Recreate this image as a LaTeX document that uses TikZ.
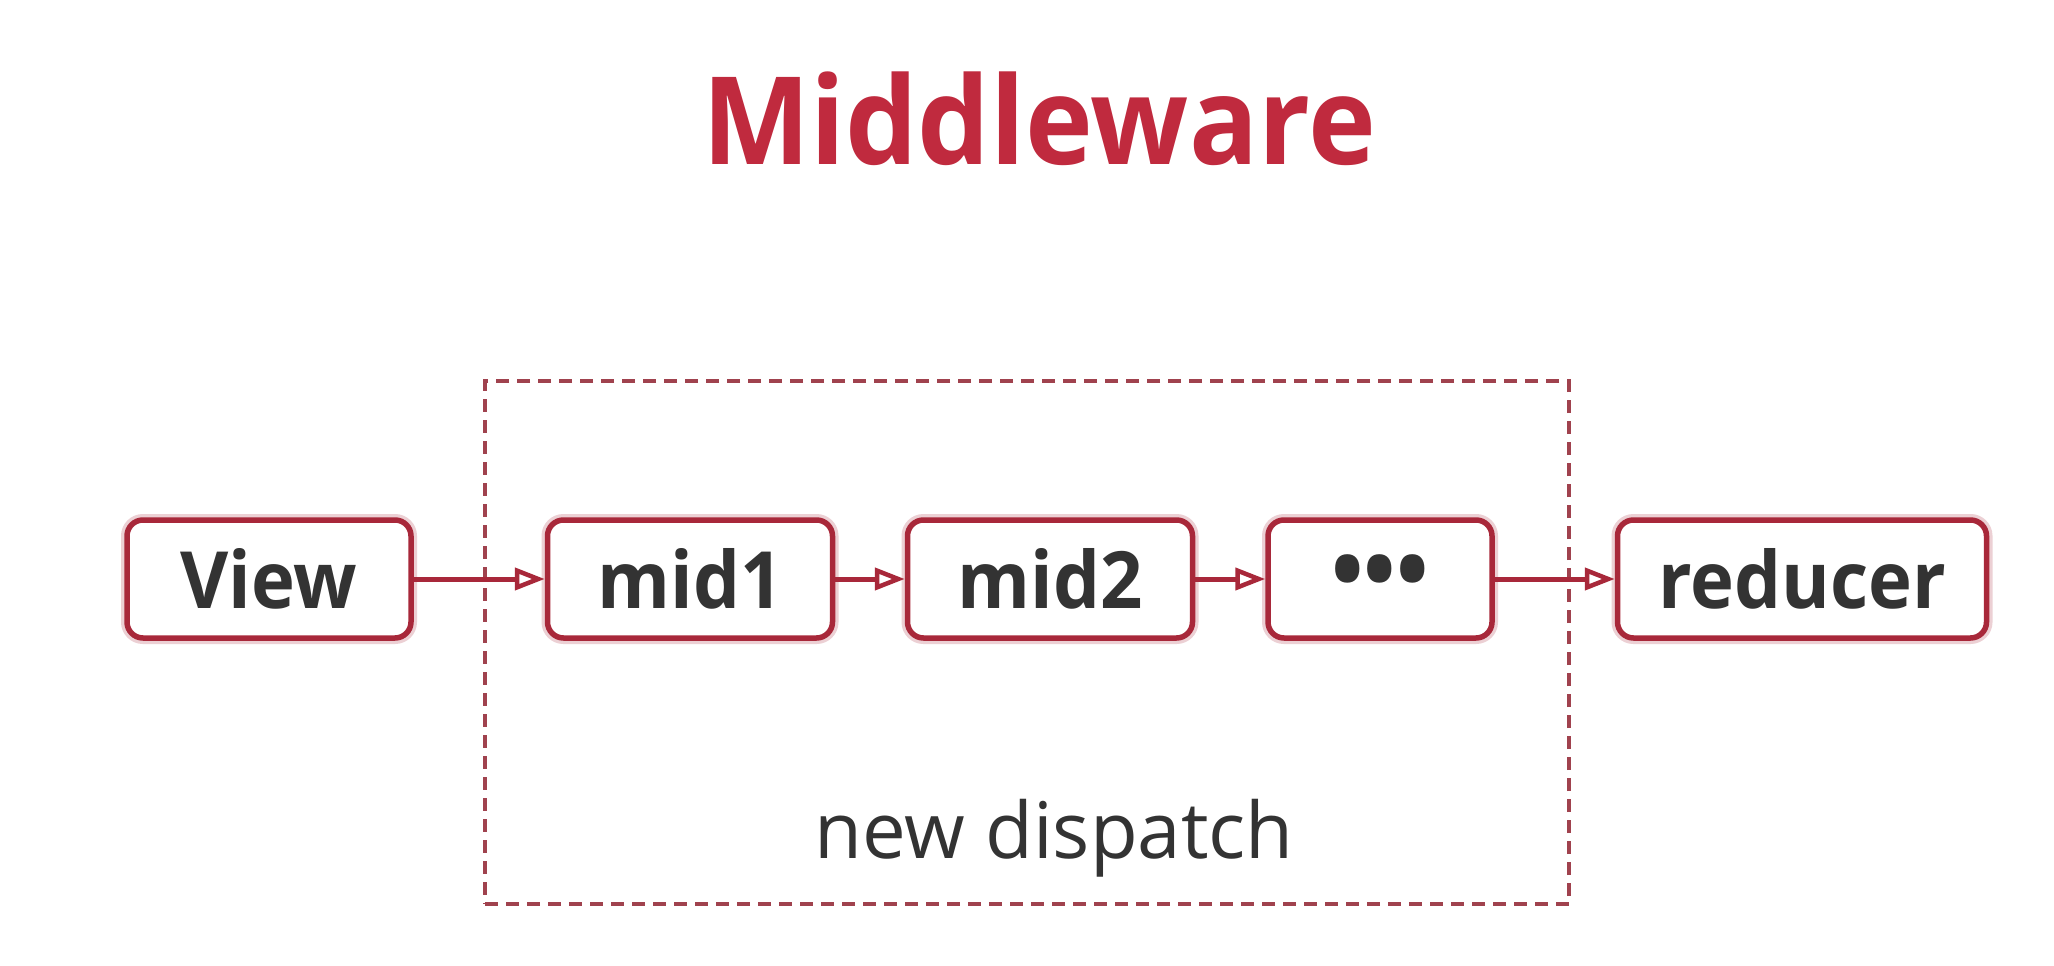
\documentclass[tikz,border=0pt]{standalone}
\usepackage{fontspec}
\setmainfont{Open Sans}
\newfontfamily\boldnarrow[FakeStretch=0.94]{Open Sans}
\usetikzlibrary{arrows.meta}
\definecolor{boxred}{HTML}{A8283A}
\definecolor{titlered}{HTML}{C02A3E}
\definecolor{txt}{HTML}{333333}
\definecolor{dashred}{HTML}{A0424E}
\tikzset{
  stagebox/.style={draw=boxred, line width=5.5pt, rounded corners=16pt, fill=white,
    minimum height=118pt, text=txt, font=\boldnarrow\fontsize{79}{90}\selectfont\bfseries,
    inner sep=0pt, preaction={draw=boxred!22, line width=12pt}},
  flow/.style={draw=boxred, line width=5pt, -{Triangle[open, length=30pt, width=22pt, line width=4.5pt]}},
}
\begin{document}
\begin{tikzpicture}[x=1pt,y=-1pt]
\useasboundingbox[fill=white] (0,0) rectangle (2054,966);
\node[font=\boldnarrow\fontsize{122}{130}\selectfont\bfseries, text=titlered, anchor=base] (title) at (1039,164) {Middleware};
\node[draw=dashred, line width=3.5pt, dash pattern=on 13pt off 8pt, minimum width=1084pt, minimum height=523pt, inner sep=0pt] (frame) at (1027,642.5) {};
\node[font=\fontsize{78}{90}\selectfont, text=txt, anchor=base] (lbl) at (1054,858) {new dispatch};
\node[stagebox, minimum width=284pt] (view) at (269,579) {View};
\node[stagebox, minimum width=285pt] (mid1) at (690,579) {mid1};
\node[stagebox, minimum width=285pt] (mid2) at (1050,579) {mid2};
\node[stagebox, minimum width=224pt] (dots) at (1380,579) {\fontsize{92}{90}\selectfont •••};
\node[stagebox, minimum width=369pt] (red) at (1802,579) {reducer};
\draw[flow] (view) -- (mid1);
\draw[flow] (mid1) -- (mid2);
\draw[flow] (mid2) -- (dots);
\draw[flow] (dots) -- (red);
\end{tikzpicture}
\end{document}
